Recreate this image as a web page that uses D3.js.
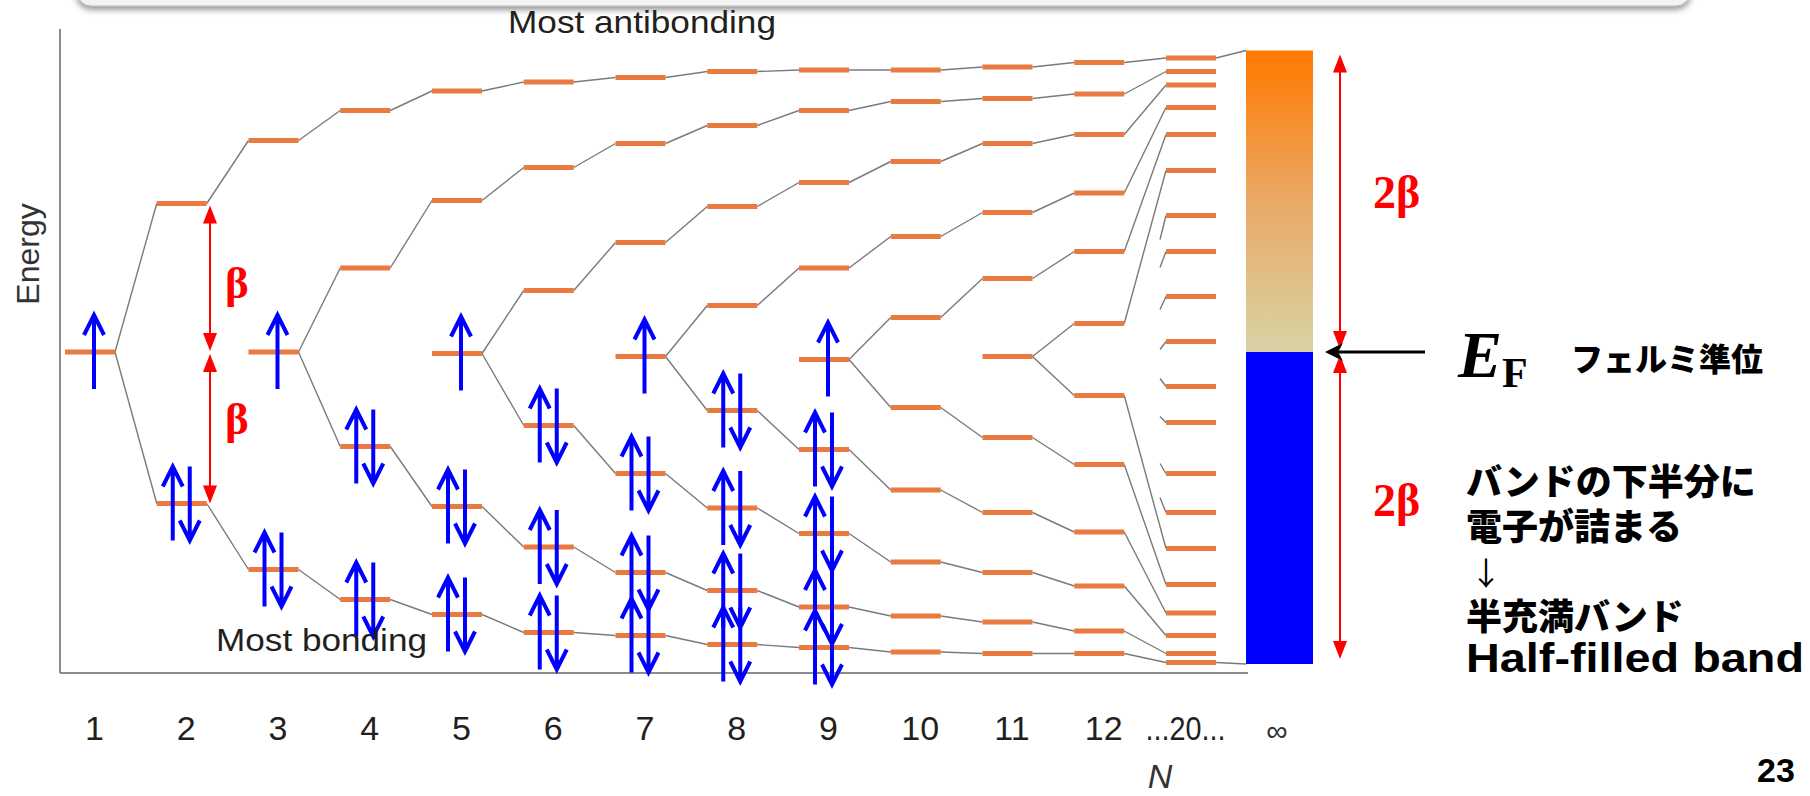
<!DOCTYPE html>
<html>
<head>
<meta charset="utf-8" />
<title>Hückel levels</title>
<script src="https://d3js.org/d3.v7.min.js"></script>
<style>
  body { margin: 0; background: #fff; }
  svg { display: block; }
</style>
</head>
<body>
<svg id="viz"></svg>
<script>
// chain length of every column
var nValues = [1, 2, 3, 4, 5, 6, 7, 8, 9, 10, 11, 12, 20];

// orbital energies in units of beta (up = antibonding)
var N1  = [0];
var N2  = [0.99, -1.01];
var N3  = [1.41, 0, -1.45];
var N4  = [1.61, 0.56, -0.63, -1.65];
var N5  = [1.74, 1.01, -0.01, -1.03, -1.75];
var N6  = [1.80, 1.23, 0.41, -0.49, -1.30, -1.87];
var N7  = [1.83, 1.39, 0.73, -0.03, -0.81, -1.47, -1.89];
var N8  = [1.87, 1.51, 0.97, 0.31, -0.39, -1.04, -1.59, -1.95];
var N9  = [1.88, 1.61, 1.13, 0.56, -0.05, -0.65, -1.21, -1.70, -1.97];
var N10 = [1.88, 1.67, 1.27, 0.77, 0.23, -0.37, -0.92, -1.40, -1.76, -2.00];
var N11 = [1.90, 1.69, 1.39, 0.93, 0.49, -0.03, -0.57, -1.07, -1.47, -1.80, -2.01];
var N12 = [1.93, 1.72, 1.45, 1.06, 0.67, 0.19, -0.29, -0.75, -1.20, -1.56, -1.86, -2.01];
var N20 = [1.96, 1.87, 1.78, 1.63, 1.45, 1.21, 0.91, 0.67, 0.37, 0.07,
           -0.23, -0.47, -0.81, -1.07, -1.31, -1.55, -1.74, -1.89, -2.01, -2.07];
var columns = [N1, N2, N3, N4, N5, N6, N7, N8, N9, N10, N11, N12, N20];

// number of pi electrons drawn in each column
var electrons = [1, 2, 3, 4, 5, 6, 7, 8, 9, 0, 0, 0, 0];

// N=12 -> N=20: which N=20 level each N=12 level runs to
var join12to20 = [0, 1, 2, 3, 4, 5, 14, 15, 16, 17, 18, 19];
// the other N=20 levels only get a short stub line
var stubLevels = [6, 7, 8, 9, 10, 11, 12, 13];
var stubRise   = [24, 16, 13, 8, -8, -6, -10, -15];

// infinite chain band (beta units)
var bandTop = 2.01, fermi = 0, bandBottom = -2.08;

var W = 1810, H = 796;
var svg = d3.select("#viz").attr("width", W).attr("height", H);
var sans = "'Liberation Sans', Arial, Helvetica, sans-serif";
var serif = "'Liberation Serif', 'Times New Roman', serif";
var jp = "'Noto Sans CJK JP', 'Noto Sans CJK SC', sans-serif";

var xScale = d3.scalePoint().domain(nValues).range([90, 1191]);
var yScale = d3.scaleLinear().domain([-2, 2]).range([652, 52]);
var half = 25;

var defs = svg.append("defs");
var sh = defs.append("filter").attr("id", "shadow")
  .attr("x", "-5%").attr("y", "-50%").attr("width", "110%").attr("height", "250%");
sh.append("feDropShadow").attr("dx", 0).attr("dy", 3).attr("stdDeviation", 3)
  .attr("flood-color", "#000").attr("flood-opacity", 0.45);
var grad = defs.append("linearGradient").attr("id", "bandGrad")
  .attr("x1", 0).attr("y1", 0).attr("x2", 0).attr("y2", 1);
grad.append("stop").attr("offset", "0%").attr("stop-color", "#ff7900");
grad.append("stop").attr("offset", "50%").attr("stop-color", "#eaa965");
grad.append("stop").attr("offset", "100%").attr("stop-color", "#d8d3a6");

// title box edge at the top
svg.append("rect")
  .attr("x", 77).attr("y", -40).attr("width", 1613).attr("height", 46)
  .attr("rx", 14).attr("fill", "#f3f3f3").attr("stroke", "#b5b5b5")
  .attr("filter", "url(#shadow)");

// axes
svg.append("line").attr("x1", 60).attr("x2", 60).attr("y1", 29).attr("y2", 673)
  .attr("stroke", "#8c8c8c").attr("stroke-width", 2);
svg.append("line").attr("x1", 60).attr("x2", 1248).attr("y1", 673).attr("y2", 673)
  .attr("stroke", "#8c8c8c").attr("stroke-width", 2);

// connecting lines
var links = [];
for (var i = 0; i < 11; i++) {
  var a = columns[i], b = columns[i + 1], n = a.length;
  a.forEach(function(e, k) {
    var targets;
    if (n % 2 == 0) {
      targets = k < n / 2 ? [k] : [k + 1];
    } else {
      var m = (n - 1) / 2;
      targets = k < m ? [k] : (k == m ? [m, m + 1] : [k + 1]);
    }
    targets.forEach(function(t) {
      links.push({ x1: xScale(nValues[i]) + half, y1: yScale(e),
                   x2: xScale(nValues[i + 1]) - half, y2: yScale(b[t]) });
    });
  });
}
N12.forEach(function(e, k) {
  links.push({ x1: xScale(12) + half, y1: yScale(e),
               x2: xScale(20) - half, y2: yScale(N20[join12to20[k]]) });
});
stubLevels.forEach(function(j, k) {
  links.push({ x1: xScale(20) - half - 6, y1: yScale(N20[j]) + stubRise[k],
               x2: xScale(20) - half, y2: yScale(N20[j]) });
});
// N=20 to band edges
var bandX = 1246, bandW = 67;
links.push({ x1: xScale(20) + half, y1: yScale(N20[0]), x2: bandX, y2: yScale(bandTop) });
links.push({ x1: xScale(20) + half, y1: yScale(N20[19]), x2: bandX, y2: yScale(bandBottom) });

svg.append("g").selectAll("line").data(links).enter().append("line")
  .attr("x1", function(d) { return d.x1; })
  .attr("y1", function(d) { return d.y1; })
  .attr("x2", function(d) { return d.x2; })
  .attr("y2", function(d) { return d.y2; })
  .attr("stroke", "#7a7a7a").attr("stroke-width", 1.4);

// energy levels
var levelData = [];
columns.forEach(function(col, i) {
  col.forEach(function(e) { levelData.push({ n: nValues[i], e: e }); });
});
svg.append("g").selectAll("line").data(levelData).enter().append("line")
  .attr("x1", function(d) { return xScale(d.n) - half; })
  .attr("x2", function(d) { return xScale(d.n) + half; })
  .attr("y1", function(d) { return yScale(d.e); })
  .attr("y2", function(d) { return yScale(d.e); })
  .attr("stroke", "#ea7a40").attr("stroke-width", 5);

// electron spin arrows
var spins = [];
columns.forEach(function(col, i) {
  var left = electrons[i], k = col.length - 1;
  while (left > 0) {
    var cx = xScale(nValues[i]), y = yScale(col[k]);
    if (left >= 2) {
      spins.push({ x: cx - 9, y: y, up: true });
      spins.push({ x: cx + 8, y: y, up: false });
      left -= 2;
    } else {
      spins.push({ x: cx + 4, y: y, up: true });
      left -= 1;
    }
    k--;
  }
});
var arrLen = 37;
svg.append("g").selectAll("path").data(spins).enter().append("path")
  .attr("d", function(d) {
    var t = d.up ? d.y - arrLen : d.y + arrLen, s = d.up ? d.y + arrLen : d.y - arrLen;
    var dir = d.up ? 1 : -1;
    return "M" + d.x + "," + s + "L" + d.x + "," + t +
      "M" + (d.x - 10) + "," + (t + 20 * dir) + "L" + d.x + "," + t + "L" + (d.x + 10) + "," + (t + 20 * dir);
  })
  .attr("fill", "none").attr("stroke", "#0000ff").attr("stroke-width", 4);

// the band for N = infinity
svg.append("rect").attr("x", bandX).attr("width", bandW)
  .attr("y", yScale(bandTop)).attr("height", yScale(fermi) - yScale(bandTop))
  .attr("fill", "url(#bandGrad)");
svg.append("rect").attr("x", bandX).attr("width", bandW)
  .attr("y", yScale(fermi)).attr("height", yScale(bandBottom) - yScale(fermi))
  .attr("fill", "#0000ff");

// red double arrows
function redArrow(x, yA, yB) {
  var g = svg.append("g");
  g.append("line").attr("x1", x).attr("x2", x).attr("y1", yA + 10).attr("y2", yB - 10)
    .attr("stroke", "#ff0000").attr("stroke-width", 2);
  g.append("path").attr("fill", "#ff0000")
    .attr("d", "M" + x + "," + yA + "l-7,18h14z M" + x + "," + yB + "l-7,-18h14z");
}
redArrow(210, yScale(N2[0]) + 2, yScale(fermi) - 1);
redArrow(210, yScale(fermi) + 2, yScale(N2[1]));
redArrow(1340, yScale(bandTop) + 4, yScale(fermi) - 3);
redArrow(1340, yScale(fermi) + 3, yScale(bandBottom) - 5);

// Fermi level pointer
svg.append("line").attr("x1", 1335).attr("x2", 1425)
  .attr("y1", yScale(fermi)).attr("y2", yScale(fermi))
  .attr("stroke", "#000").attr("stroke-width", 3);
svg.append("path").attr("fill", "#000")
  .attr("d", "M1325," + yScale(fermi) + "l18,-9l-5,9l5,9z");

// axis tick labels
var xAxis = d3.axisBottom(xScale).tickSize(0).tickPadding(0)
  .tickFormat(function(d) { return d == 20 ? "...20..." : d; });
var ax = svg.append("g").attr("transform", "translate(4,716)").call(xAxis);
ax.select(".domain").remove();
ax.selectAll("text").attr("font-family", sans).attr("font-size", 34).attr("fill", "#231f20");
ax.selectAll("text").filter(function(d) { return d == 20; })
  .attr("x", -10).attr("textLength", 80).attr("lengthAdjust", "spacingAndGlyphs");

function txt(x, y, s, size, opts) {
  opts = opts || {};
  var t = svg.append("text").attr("x", x).attr("y", y).text(s)
    .attr("font-family", opts.family || sans).attr("font-size", size)
    .attr("fill", opts.fill || "#231f20");
  if (opts.weight) t.attr("font-weight", opts.weight);
  if (opts.style) t.attr("font-style", opts.style);
  if (opts.anchor) t.attr("text-anchor", opts.anchor);
  if (opts.len) t.attr("textLength", opts.len).attr("lengthAdjust", "spacingAndGlyphs");
  return t;
}

txt(1277, 741, "∞", 30, { anchor: "middle", fill: "#333" });
txt(1160, 788, "N", 34, { anchor: "middle", style: "italic", fill: "#333" });
txt(0, 0, "Energy", 32, { anchor: "middle", fill: "#333" })
  .attr("transform", "translate(39,254) rotate(-90)");
txt(508, 33, "Most antibonding", 32, { len: 268 });
txt(216, 651, "Most bonding", 32, { len: 211 });

txt(225, 298, "β", 45, { family: serif, weight: "bold", fill: "#ff0000" });
txt(225, 434, "β", 45, { family: serif, weight: "bold", fill: "#ff0000" });
txt(1373, 208, "2β", 46, { family: serif, weight: "bold", fill: "#ff0000" });
txt(1373, 516, "2β", 46, { family: serif, weight: "bold", fill: "#ff0000" });

txt(1458, 377, "E", 66, { family: serif, weight: "bold", style: "italic", fill: "#000" });
txt(1502, 387, "F", 42, { family: serif, weight: "bold", fill: "#000" });
txt(1571, 371, "フェルミ準位", 32, { family: jp, weight: 900, fill: "#000" });

txt(1466, 495, "バンドの下半分に", 36, { family: jp, weight: 900, fill: "#000" });
txt(1466, 540, "電子が詰まる", 36, { family: jp, weight: 900, fill: "#000" });
txt(1470, 585, "↓", 32, { family: jp, fill: "#000" });
txt(1466, 630, "半充満バンド", 36, { family: jp, weight: 900, fill: "#000" });
txt(1466, 672, "Half-filled band", 40, { weight: "bold", fill: "#000", len: 338 });
txt(1757, 782, "23", 34, { weight: "bold", fill: "#000" });
</script>
</body>
</html>
